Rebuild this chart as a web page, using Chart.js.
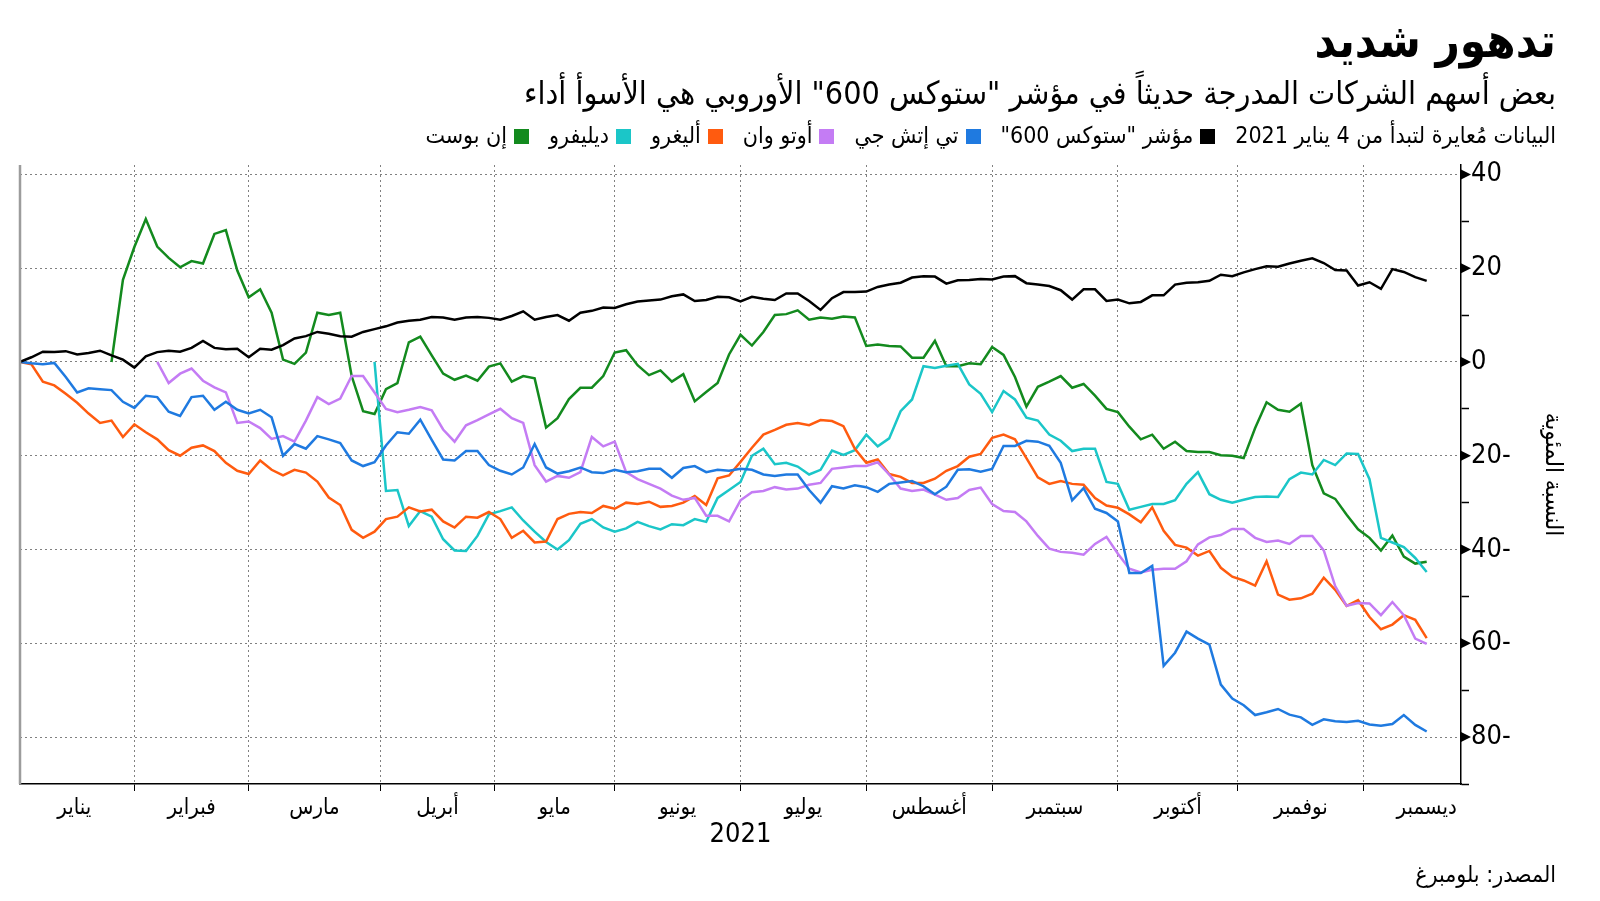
<!DOCTYPE html>
<html lang="ar">
<head>
    <meta charset="UTF-8">
    <title>تدهور شديد</title>
    <script src="https://cdn.jsdelivr.net/npm/chart.js"></script>
    <style>
        body {
            margin: 0;
            background: #fff;
        }
        .page {
            position: relative;
            width: 1600px;
            height: 901px;
            overflow: hidden;
            font-family: "DejaVu Sans Condensed", "DejaVu Sans", sans-serif;
            color: #000;
        }
        canvas {
            position: absolute;
            left: 0;
            top: 0;
        }
        .txt {
            position: absolute;
            right: 44px;
            direction: rtl;
            white-space: nowrap;
            line-height: 1;
        }
        .title { top: 17px; font-size: 47px; font-weight: bold; }
        .subtitle { top: 77px; font-size: 32px; }
        .legend { top: 124px; font-size: 23px; }
        .source { top: 863px; font-size: 23px; }
        .legend .item { margin-right: 20px; }
        .legend i {
            display: inline-block;
            width: 15px;
            height: 15px;
            margin-left: 7px;
            vertical-align: -1px;
        }
    </style>
</head>
<body>
<div class="page">
    <canvas id="chart" width="1600" height="901"></canvas>
    <div class="txt title">تدهور شديد</div>
    <div class="txt subtitle">بعض أسهم الشركات المدرجة حديثاً في مؤشر "ستوكس 600" الأوروبي هي الأسوأ أداء</div>
    <div class="txt legend" id="legend"><span>البيانات مُعايرة لتبدأ من 4 يناير 2021</span></div>
    <div class="txt source">المصدر: بلومبرغ</div>
</div>

<script>
    // trading day index since 4 Jan 2021 (every second session)
    const tradingDays = [
        0, 2, 4, 6, 8, 10, 12, 14, 16, 18,
        20, 22, 24, 26, 28, 30, 32, 34, 36, 38,
        40, 42, 44, 46, 48, 50, 52, 54, 56, 58,
        60, 62, 64, 66, 68, 70, 72, 74, 76, 78,
        80, 82, 84, 86, 88, 90, 92, 94, 96, 98,
        100, 102, 104, 106, 108, 110, 112, 114, 116, 118,
        120, 122, 124, 126, 128, 130, 132, 134, 136, 138,
        140, 142, 144, 146, 148, 150, 152, 154, 156, 158,
        160, 162, 164, 166, 168, 170, 172, 174, 176, 178,
        180, 182, 184, 186, 188, 190, 192, 194, 196, 198,
        200, 202, 204, 206, 208, 210, 212, 214, 216, 218,
        220, 222, 224, 226, 228, 230, 232, 234, 236, 238,
        240, 242, 244, 246
    ];

    // first session of each month (Feb..Dec) and month centres for the labels
    const monthStarts = [20, 40, 63, 83, 104, 126, 148, 170, 192, 213, 235];
    const monthMids = [9.5, 30, 51.5, 73, 93.5, 115, 137, 159, 181, 202.5, 224, 246];
    const monthNames = ['يناير', 'فبراير', 'مارس', 'أبريل', 'مايو', 'يونيو',
        'يوليو', 'أغسطس', 'سبتمبر', 'أكتوبر', 'نوفمبر', 'ديسمبر'];

    const yTicks = [-90, -80, -70, -60, -50, -40, -30, -20, -10, 0, 10, 20, 30, 40];

    const seriesNames = ['مؤشر "ستوكس 600"', 'تي إتش جي', 'أوتو وان', 'أليغرو', 'ديليفرو', 'إن بوست'];
    const seriesColors = ['#000000', '#1f7ae0', '#c47cf4', '#ff5b0f', '#1bc6c8', '#138a1e'];

    const stoxx600 = [
        0, 1.0, 2.2, 2.1, 2.3, 1.6, 1.9, 2.4, 1.4, 0.5,
        -1.2, 1.2, 2.1, 2.4, 2.2, 3.0, 4.5, 3.0, 2.7, 2.8,
        1.0, 2.8, 2.6, 3.6, 5.0, 5.5, 6.4, 6.0, 5.5, 5.4,
        6.4, 7.0, 7.6, 8.4, 8.8, 9.0, 9.6, 9.5, 9.0, 9.5,
        9.6, 9.4, 9.0, 9.8, 10.8, 9.0, 9.6, 10.0, 8.8, 10.5,
        10.9, 11.6, 11.5, 12.3, 12.9, 13.1, 13.3, 14.0, 14.4, 13.0,
        13.2, 13.9, 13.8, 12.9, 13.9, 13.5, 13.2, 14.6, 14.6, 13.0,
        11.1, 13.6, 14.9, 14.9, 15.0, 16.0, 16.5, 16.9, 18.0, 18.3,
        18.2, 16.7, 17.4, 17.5, 17.7, 17.6, 18.2, 18.3, 16.8, 16.5,
        16.2, 15.3, 13.3, 15.5, 15.5, 13.0, 13.3, 12.5, 12.8, 14.2,
        14.2, 16.5, 16.9, 17.0, 17.3, 18.6, 18.3, 19.1, 19.8, 20.4,
        20.3, 21.0, 21.6, 22.1, 21.1, 19.6, 19.5, 16.3, 17.0, 15.6,
        19.8, 19.2, 18.1, 17.3
    ];

    const thg = [
        0, -0.3, -0.5, -0.2, -3.2, -6.5, -5.6, -5.8, -6.0, -8.5,
        -9.8, -7.2, -7.5, -10.6, -11.5, -7.5, -7.2, -10.2, -8.5, -10.2,
        -11.0, -10.2, -11.8, -20.0, -17.5, -18.5, -15.8, -16.5, -17.3, -21.0,
        -22.2, -21.4, -17.8, -15.0, -15.3, -12.3, -16.6, -20.8, -21.0, -19.0,
        -19.0, -22.0, -23.2, -24.0, -22.5, -17.5, -22.5, -23.8, -23.3, -22.5,
        -23.5, -23.7, -23.0, -23.5, -23.3, -22.8, -22.8, -24.7, -22.6, -22.2,
        -23.5, -23.0, -23.2, -22.8, -23.0, -24.0, -24.3, -24.0, -24.0, -27.3,
        -30.0, -26.5, -27.0, -26.3, -26.7, -27.7, -26.0, -25.7, -25.4, -26.5,
        -28.2, -26.6, -23.0, -22.9, -23.4, -22.8, -17.9, -17.9, -16.8, -17.0,
        -17.9, -21.5, -29.5, -26.9, -31.3, -32.2, -34.0, -45.0, -45.0, -43.5,
        -64.8, -62.0, -57.5, -59.0, -60.3, -68.8, -71.8, -73.2, -75.3, -74.7,
        -74.0, -75.2, -75.8, -77.4, -76.2, -76.6, -76.8, -76.5, -77.3, -77.6,
        -77.2, -75.3, -77.4, -78.8
    ];

    const autoOne = [
        null, null, null, null, null, null, null, null, null, null,
        null, null, 0, -4.5, -2.5, -1.4, -4.0, -5.4, -6.5, -13.0,
        -12.7, -14.1, -16.4, -15.8, -17.0, -12.5, -7.5, -9.0, -7.8, -3.0,
        -3.0, -6.5, -10.0, -10.7, -10.2, -9.6, -10.3, -14.4, -17.0, -13.5,
        -12.4, -11.2, -10.0, -12.0, -13.0, -22.0, -25.5, -24.3, -24.7, -23.5,
        -16.0, -18.0, -17.0, -23.5, -25.0, -26.0, -27.0, -28.5, -29.4, -29.0,
        -32.8, -32.8, -34.0, -29.5, -27.8, -27.5, -26.7, -27.2, -27.0, -26.2,
        -25.8, -22.8, -22.5, -22.2, -22.2, -21.4, -24.0, -27.0, -27.5, -27.2,
        -28.3, -29.4, -29.0, -27.3, -26.8, -30.3, -31.8, -32.0, -34.0, -37.1,
        -39.8, -40.5, -40.7, -41.1, -38.8, -37.3, -40.9, -44.1, -44.9, -44.3,
        -44.1, -44.1, -42.5, -38.9, -37.4, -36.9, -35.6, -35.6, -37.5, -38.4,
        -38.1, -38.8, -37.1, -37.1, -40.2, -47.8, -52.0, -51.4, -51.5, -54.0,
        -51.2, -54.0, -59.0, -60.1
    ];

    const allegro = [
        0, -0.5, -4.2, -5.0, -6.8, -8.7, -11.0, -13.0, -12.5, -16.0,
        -13.3, -15.0, -16.5, -18.8, -20.0, -18.3, -17.8, -19.0, -21.5, -23.2,
        -23.9, -21.0, -23.0, -24.2, -23.0, -23.6, -25.5, -28.9, -30.5, -35.8,
        -37.5, -36.2, -33.5, -33.0, -31.0, -31.9, -31.5, -34.0, -35.3, -33.0,
        -33.2, -32.0, -33.5, -37.5, -36.0, -38.5, -38.3, -33.5, -32.4, -32.0,
        -32.2, -30.7, -31.3, -30.0, -30.3, -29.8, -30.9, -30.7, -30.0, -28.6,
        -30.5, -24.8, -24.2, -21.3, -18.3, -15.5, -14.5, -13.4, -13.0, -13.5,
        -12.4, -12.6, -13.7, -18.5, -21.5, -20.8, -23.9, -24.5, -25.8, -25.8,
        -24.9, -23.2, -22.2, -20.2, -19.6, -16.2, -15.5, -16.5, -20.5, -24.6,
        -26.0, -25.4, -26.0, -26.2, -29.0, -30.6, -31.1, -32.5, -34.2, -31.0,
        -36.0, -39.0, -39.6, -41.3, -40.3, -43.9, -45.8, -46.6, -47.7, -42.5,
        -49.6, -50.7, -50.4, -49.4, -46.0, -48.6, -52.0, -50.8, -54.4, -57.0,
        -56.0, -54.0, -55.0, -58.9
    ];

    const deliveroo = [
        null, null, null, null, null, null, null, null, null, null,
        null, null, null, null, null, null, null, null, null, null,
        null, null, null, null, null, null, null, null, null, null,
        null, 0, -27.5, -27.3, -35.0, -31.8, -33.0, -37.8, -40.2, -40.3,
        -37.1, -32.5, -31.8, -31.0, -33.8, -36.2, -38.4, -40.0, -38.0, -34.5,
        -33.5, -35.3, -36.2, -35.5, -34.1, -35.0, -35.7, -34.6, -34.8, -33.5,
        -34.1, -29.0, -27.3, -25.6, -20.0, -18.5, -21.8, -21.5, -22.3, -24.0,
        -23.0, -18.9, -19.8, -18.8, -15.5, -18.0, -16.3, -10.5, -8.0, -0.9,
        -1.3, -0.8, -0.4, -4.8, -6.8, -10.7, -6.2, -8.0, -11.9, -12.5,
        -15.5, -16.8, -19.0, -18.5, -18.5, -25.6, -26.0, -31.5, -30.9, -30.3,
        -30.3, -29.5, -26.0, -23.5, -28.2, -29.4, -30.0, -29.4, -28.8, -28.7,
        -28.8, -25.0, -23.6, -24.0, -20.9, -22.0, -19.5, -19.6, -25.0, -37.5,
        -38.5, -39.5, -41.8, -44.8
    ];

    const inPost = [
        null, null, null, null, null, null, null, null, 0, 17.5,
        24.5, 30.5, 24.6, 22.2, 20.2, 21.5, 21.0, 27.3, 28.1, 19.5,
        13.8, 15.5, 10.5, 0.5, -0.4, 2.0, 10.5, 10.0, 10.5, -3.0,
        -10.5, -11.1, -5.8, -4.5, 4.2, 5.4, 1.4, -2.5, -3.8, -2.9,
        -4.0, -1.0, -0.3, -4.2, -3.0, -3.5, -14.0, -12.0, -7.9, -5.5,
        -5.5, -3.0, 2.0, 2.5, -0.7, -2.8, -1.8, -4.2, -2.6, -8.4,
        -6.4, -4.5, 1.6, 5.8, 3.5, 6.4, 10.0, 10.2, 11.0, 9.0,
        9.5, 9.2, 9.7, 9.5, 3.4, 3.7, 3.4, 3.3, 0.9, 0.9,
        4.5, -0.9, -0.9, -0.3, -0.5, 3.2, 1.5, -3.2, -9.5, -5.3,
        -4.2, -3.0, -5.5, -4.7, -7.2, -10.0, -10.7, -13.8, -16.5, -15.5,
        -18.5, -17.0, -19.0, -19.2, -19.2, -19.9, -20.0, -20.5, -14.1, -8.6,
        -10.2, -10.6, -8.9, -22.0, -28.0, -29.2, -32.6, -35.7, -37.5, -40.2,
        -37.0, -41.5, -43.0, -42.6
    ];

    const allSeries = [stoxx600, thg, autoOne, allegro, deliveroo, inPost];

    // legend row under the subtitle
    const legendEl = document.getElementById('legend');
    seriesNames.forEach((name, i) => {
        const item = document.createElement('span');
        item.className = 'item';
        const swatch = document.createElement('i');
        swatch.style.background = seriesColors[i];
        item.appendChild(swatch);
        item.appendChild(document.createTextNode(name));
        legendEl.appendChild(item);
    });

    const arabicFont = '"DejaVu Sans Condensed", "DejaVu Sans", sans-serif';
    const labelled = v => v % 20 === 0 && v > -90;

    // left frame line and the small arrow marks on the right axis
    const axisMarks = {
        id: 'axisMarks',
        afterDraw(chart) {
            const {ctx, chartArea, scales} = chart;
            const y = scales.y;
            ctx.save();
            ctx.strokeStyle = '#9c9c9c';
            ctx.lineWidth = 2.5;
            ctx.beginPath();
            ctx.moveTo(chartArea.left, chartArea.top);
            ctx.lineTo(chartArea.left, chartArea.bottom);
            ctx.stroke();
            ctx.fillStyle = '#000';
            yTicks.filter(labelled).forEach(v => {
                const py = y.getPixelForValue(v);
                ctx.beginPath();
                ctx.moveTo(y.left, py - 5);
                ctx.lineTo(y.left + 10, py);
                ctx.lineTo(y.left, py + 5);
                ctx.closePath();
                ctx.fill();
            });
            ctx.restore();
        }
    };

    const ctx = document.getElementById('chart').getContext('2d');
    new Chart(ctx, {
        type: 'line',
        data: {
            datasets: allSeries.map((values, i) => ({
                label: seriesNames[i],
                data: tradingDays.map((d, j) => ({x: d, y: values[j]})),
                borderColor: seriesColors[i],
                backgroundColor: seriesColors[i],
                borderWidth: 2.5,
                pointRadius: 0,
                tension: 0,
                spanGaps: false
            }))
        },
        options: {
            responsive: false,
            animation: false,
            layout: {
                padding: {left: 20, top: 165, right: 0, bottom: 47}
            },
            plugins: {
                legend: {display: false},
                tooltip: {enabled: false}
            },
            scales: {
                x: {
                    type: 'linear',
                    min: 0,
                    max: 252,
                    afterBuildTicks: scale => {
                        scale.ticks = monthStarts.concat(monthMids)
                            .sort((a, b) => a - b)
                            .map(v => ({value: v}));
                    },
                    afterFit: scale => { scale.height = 70; },
                    grid: {
                        color: c => (c.tick && monthStarts.includes(c.tick.value)) ? '#808080' : 'rgba(0,0,0,0)',
                        tickColor: c => (c.tick && monthStarts.includes(c.tick.value)) ? '#000' : 'rgba(0,0,0,0)',
                        lineWidth: 1,
                        tickLength: 7,
                        tickWidth: 1
                    },
                    border: {display: true, color: '#000', width: 1.5, dash: [2, 3]},
                    ticks: {
                        autoSkip: false,
                        maxRotation: 0,
                        padding: 4,
                        color: '#000',
                        font: {family: arabicFont, size: 22},
                        callback: v => {
                            const i = monthMids.indexOf(v);
                            return i >= 0 ? monthNames[i] : '';
                        }
                    },
                    title: {
                        display: true,
                        text: '2021',
                        color: '#000',
                        font: {family: arabicFont, size: 27},
                        padding: {top: 0, bottom: 3}
                    }
                },
                y: {
                    position: 'right',
                    min: -90,
                    max: 42,
                    afterBuildTicks: scale => {
                        scale.ticks = yTicks.map(v => ({value: v}));
                    },
                    afterFit: scale => { scale.width = 139; },
                    grid: {
                        color: c => (c.tick && labelled(c.tick.value)) ? '#808080' : 'rgba(0,0,0,0)',
                        tickColor: c => (c.tick && !labelled(c.tick.value)) ? '#000' : 'rgba(0,0,0,0)',
                        lineWidth: 1,
                        tickLength: 8,
                        tickWidth: 1.5
                    },
                    border: {display: true, color: '#000', width: 1.5, dash: [2, 3]},
                    ticks: {
                        padding: 2,
                        color: '#000',
                        font: {family: arabicFont, size: 27},
                        callback: v => {
                            if (!labelled(v)) return '';
                            return v < 0 ? Math.abs(v) + '-' : String(v);
                        }
                    },
                    title: {
                        display: true,
                        text: 'النسبة المئوية',
                        color: '#000',
                        font: {family: arabicFont, size: 24},
                        padding: {top: 33, bottom: 0}
                    }
                }
            }
        },
        plugins: [axisMarks]
    });
</script>
</body>
</html>
